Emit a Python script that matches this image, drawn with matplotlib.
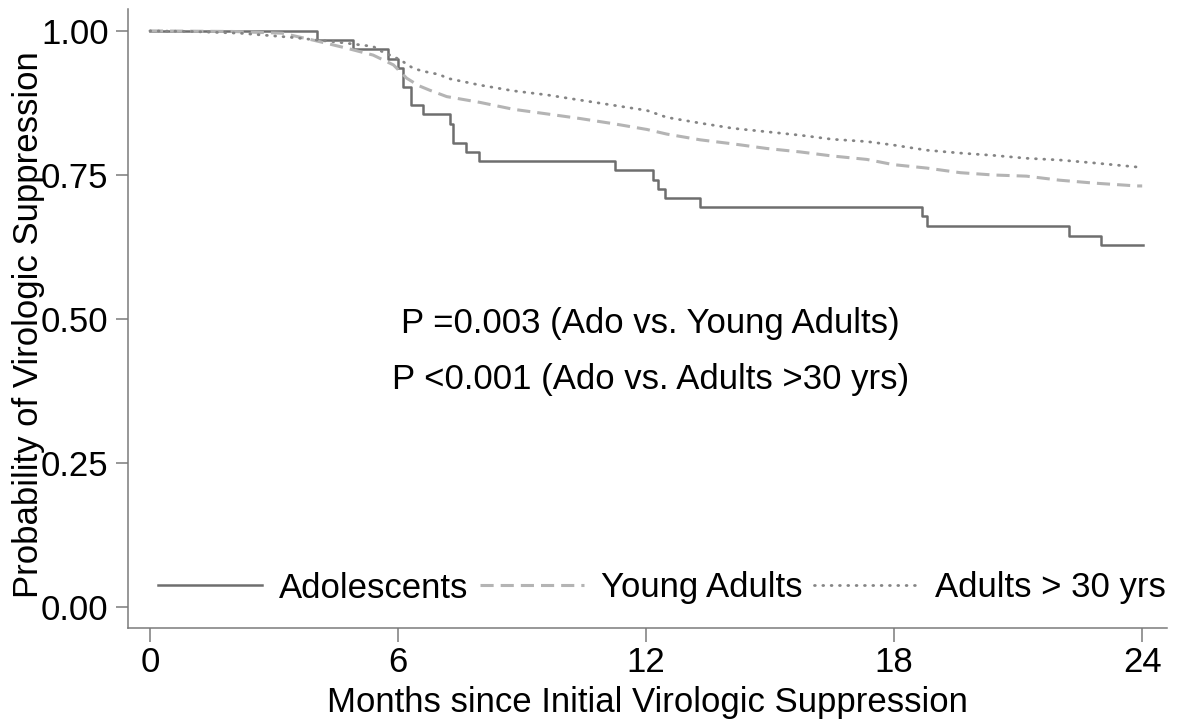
import matplotlib
matplotlib.use("Agg")
import matplotlib.pyplot as plt

plt.rcParams['font.family'] = ['Liberation Sans', 'DejaVu Sans']

# Adolescents (Kaplan-Meier step curve)
ado_t = [0, 4.03, 4.90, 5.75, 6.01, 6.11, 6.31, 6.60, 7.26, 7.34, 7.64, 7.95,
         11.26, 12.16, 12.30, 12.45, 13.31, 18.67, 18.79, 22.24, 23.0, 24.03]
ado_s = [1.0, 0.984, 0.968, 0.951, 0.936, 0.903, 0.872, 0.855, 0.839, 0.806, 0.790, 0.775,
         0.758, 0.742, 0.726, 0.710, 0.694, 0.678, 0.662, 0.645, 0.629, 0.629]

# Young Adults
ya_t = [0, 2.0, 3.2, 3.95, 4.76, 5.4, 5.89, 6.21, 6.5, 6.77, 7.18, 7.98, 8.79, 9.6,
        10.4, 11.21, 12.02, 12.5, 13.31, 14.1, 14.92, 15.73, 16.5, 17.34, 17.98,
        18.79, 19.6, 20.4, 21.2, 22.0, 22.82, 23.87, 24.0]
ya_s = [1.0, 0.999, 0.996, 0.984, 0.970, 0.958, 0.941, 0.918, 0.905, 0.897, 0.886, 0.876,
        0.864, 0.856, 0.848, 0.839, 0.829, 0.821, 0.811, 0.804, 0.796, 0.790, 0.783,
        0.777, 0.768, 0.762, 0.754, 0.750, 0.748, 0.741, 0.736, 0.731, 0.731]

# Adults > 30 yrs
ad_t = [0, 1.0, 2.18, 3.39, 4.6, 5.4, 5.56, 6.05, 6.37, 6.61, 7.02, 7.18, 7.98, 8.79,
        9.6, 10.4, 11.21, 12.02, 12.5, 13.31, 14.1, 14.92, 15.73, 16.5, 17.34, 17.98,
        18.79, 19.6, 20.4, 21.2, 22.0, 22.82, 24.0]
ad_s = [1.0, 0.999, 0.996, 0.989, 0.980, 0.973, 0.966, 0.950, 0.935, 0.930, 0.924, 0.918,
        0.906, 0.896, 0.889, 0.880, 0.871, 0.862, 0.850, 0.840, 0.831, 0.825, 0.819,
        0.812, 0.808, 0.802, 0.793, 0.788, 0.784, 0.779, 0.776, 0.771, 0.763]

series_labels = ["Adolescents", "Young Adults", "Adults > 30 yrs"]
x_ticks = [0, 6, 12, 18, 24]
y_ticks = [0.0, 0.25, 0.5, 0.75, 1.0]
y_ticklabels = ["0.00", "0.25", "0.50", "0.75", "1.00"]
pval_texts = ["P =0.003 (Ado vs. Young Adults)", "P <0.001 (Ado vs. Adults >30 yrs)"]

fs = 25

fig = plt.figure(figsize=(11.9, 7.26), dpi=100)
ax = fig.add_axes([128/1190, 1-628/726, (1167-128)/1190, (628-9)/726])

ax.plot(ado_t, ado_s, drawstyle='steps-post', color='#6e6e6e', lw=1.8,
        label=series_labels[0])
ax.plot(ya_t, ya_s, color='#b4b4b4', lw=2.2, dashes=(4.3, 2.3),
        label=series_labels[1])
ax.plot(ad_t, ad_s, color='#858585', lw=2.0, linestyle=(0, (0.3, 2.7)),
        dash_capstyle='round', label=series_labels[2])

ax.set_xlim(-0.53, 24.6)
ax.set_ylim(-0.036, 1.038)
ax.set_xticks(x_ticks)
ax.set_xticklabels([str(t) for t in x_ticks])
ax.set_yticks(y_ticks)
ax.set_yticklabels(y_ticklabels)

for s in ['top', 'right']:
    ax.spines[s].set_visible(False)
for s in ['left', 'bottom']:
    ax.spines[s].set_color('#7a7a7a')
    ax.spines[s].set_linewidth(1.1)
ax.tick_params(axis='both', colors='#7a7a7a', labelcolor='black', labelsize=fs,
               width=1.1)
ax.tick_params(axis='y', length=9, pad=5)
ax.tick_params(axis='x', length=10, pad=3)

ax.set_xlabel("Months since Initial Virologic Suppression", fontsize=fs, labelpad=5)
ax.set_ylabel("Probability of Virologic Suppression", fontsize=fs)
ax.yaxis.set_label_coords((45-128)/1039, (628-325)/619)

ax.text(12.1, 0.476, pval_texts[0], fontsize=fs, ha='center', va='baseline')
ax.text(12.1, 0.378, pval_texts[1], fontsize=fs, ha='center', va='baseline')

leg = ax.legend(loc='center', bbox_to_anchor=((662-128)/1039, (628-588)/619), ncol=3,
                frameon=False, fontsize=fs, handlelength=3.0, handletextpad=0.49,
                columnspacing=0.32, borderaxespad=0, borderpad=0)

fig.savefig("out.png", dpi=100)
